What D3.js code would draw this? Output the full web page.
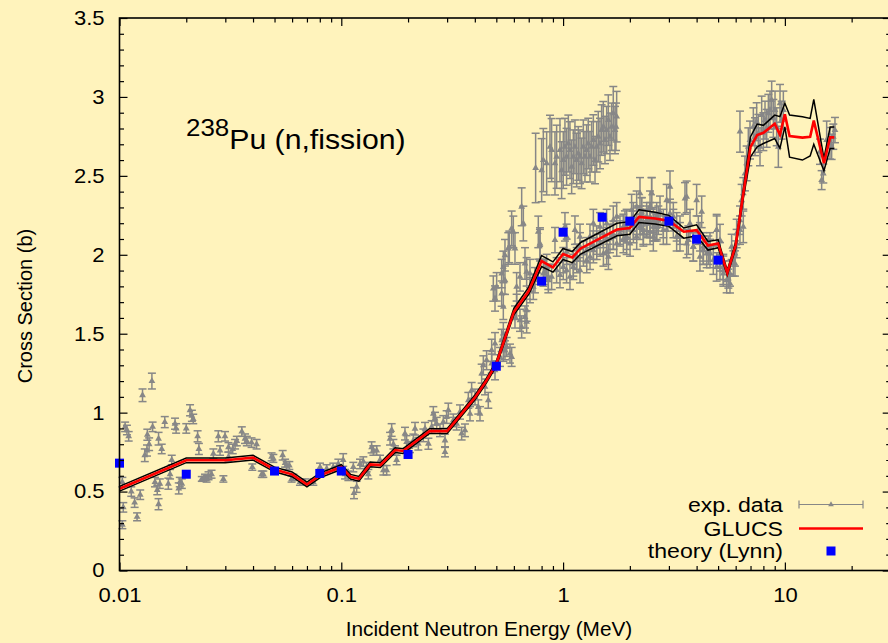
<!DOCTYPE html>
<html><head><meta charset="utf-8">
<script src="https://cdn.jsdelivr.net/npm/d3@7"></script>
<style>
html,body{margin:0;padding:0;background:#fff3bc;}
svg{display:block;font-family:"Liberation Sans",Arial,Helvetica,sans-serif;}
.sx{transform-box:fill-box;transform-origin:center;transform:scaleX(1.1);}
.sx2{transform-box:fill-box;transform-origin:center;transform:scaleX(1.04);}
.sxr{transform-box:fill-box;transform-origin:right center;transform:scaleX(1.1);}
.sxl{transform-box:fill-box;transform-origin:left center;transform:scaleX(1.08);}
</style></head><body><svg id="c" width="888" height="643"></svg>
<script>
// ---------- data ----------
const xTickValues = [0.01, 0.1, 1, 10];
const xTickLabels = ["0.01", "0.1", "1", "10"];
const yTickValues = [0, 0.5, 1, 1.5, 2, 2.5, 3, 3.5];
const yTickLabels = ["0", "0.5", "1", "1.5", "2", "2.5", "3", "3.5"];

// experimental data [E (MeV), sigma (b), error]
const expLow = [
[0.0103,0.56,0.03],[0.0104,0.40,0.03],[0.0103,0.29,0.025],[0.0106,0.91,0.03],[0.0108,0.89,0.03],[0.011,0.85,0.03],[0.0113,0.50,0.03],[0.0117,0.43,0.03],[0.0120,0.34,0.025],[0.0124,0.48,0.03],[0.0127,1.11,0.04],[0.0130,0.73,0.04],[0.0133,0.76,0.035],[0.01335,0.86,0.035],[0.0136,0.80,0.04],[0.0140,1.20,0.05],[0.0141,0.91,0.03],[0.01445,0.56,0.03],[0.0148,0.51,0.03],[0.0150,0.42,0.035],[0.0150,0.835,0.04],[0.0152,0.55,0.03],[0.0155,0.77,0.03],[0.0160,0.94,0.035],[0.0166,0.55,0.035],[0.0169,0.61,0.03],[0.0172,0.70,0.03],[0.0178,0.93,0.035],[0.0180,0.90,0.03],[0.0185,0.52,0.035],[0.0187,0.56,0.03],[0.0191,0.55,0.03],[0.0200,0.90,0.03],[0.0208,1.015,0.035],[0.0212,0.98,0.035],[0.0215,0.96,0.03],[0.0225,0.85,0.035],[0.0228,0.77,0.035],[0.0235,0.58,0.015],[0.0243,0.59,0.02],[0.0247,0.58,0.02],[0.0252,0.60,0.025],[0.026,0.61,0.025],[0.0265,0.74,0.03],[0.0279,0.85,0.035],[0.0284,0.76,0.03],[0.0294,0.58,0.02],[0.0299,0.85,0.03],[0.031,0.78,0.03],[0.031,0.72,0.03],[0.0324,0.77,0.03],[0.0332,0.80,0.03],[0.0338,0.82,0.03],[0.0356,0.88,0.03],[0.0368,0.835,0.03],[0.0375,0.82,0.03],[0.0394,0.81,0.03],[0.0397,0.655,0.02],[0.0415,0.80,0.03],[0.0438,0.61,0.02],[0.0445,0.61,0.02],[0.0485,0.72,0.025],[0.0494,0.71,0.025],[0.0544,0.73,0.03],[0.0558,0.68,0.025],[0.0567,0.665,0.025],[0.0583,0.665,0.025],[0.0597,0.58,0.02],[0.0608,0.59,0.02],[0.0651,0.56,0.02],[0.0686,0.56,0.02],[0.0748,0.56,0.02],[0.0802,0.655,0.025],[0.0859,0.645,0.025],[0.092,0.655,0.025],[0.097,0.675,0.03],[0.102,0.70,0.04],[0.104,0.61,0.03],[0.1076,0.60,0.03],[0.1133,0.655,0.03],[0.1141,0.49,0.035],[0.1173,0.53,0.035],[0.1214,0.675,0.03],[0.1257,0.69,0.03],[0.1301,0.655,0.03],[0.1324,0.61,0.03],[0.137,0.78,0.035],[0.1395,0.76,0.03],[0.1444,0.76,0.03],[0.1495,0.70,0.03],[0.1548,0.635,0.03],[0.1602,0.635,0.03],[0.1659,0.835,0.04],[0.1687,0.89,0.04],[0.1717,0.80,0.03],[0.1746,0.76,0.03],[0.1776,0.70,0.03]
];
const expRise = [
[0.1937,0.867,0.04],[0.197,0.814,0.04],[0.204,0.782,0.035],[0.2113,0.824,0.04],[0.215,0.898,0.04],[0.2225,0.803,0.04],[0.2344,0.856,0.04],[0.2385,0.898,0.04],[0.247,0.803,0.035],[0.2555,0.909,0.04],[0.26,0.993,0.045],[0.2646,0.962,0.04],[0.2692,0.93,0.04],[0.2786,0.888,0.04],[0.2884,0.941,0.04],[0.2935,0.824,0.04],[0.2935,0.75,0.03],[0.2985,0.972,0.04],[0.3038,1.015,0.045],[0.3199,0.951,0.04],[0.3311,0.93,0.04],[0.3428,1.004,0.045],[0.3488,0.867,0.04],[0.3611,0.888,0.04],[0.3739,1.078,0.05],[0.3804,0.993,0.045],[0.387,1.141,0.05],[0.4008,1.099,0.05],[0.4147,1.036,0.045],[0.422,0.993,0.045],[0.4445,1.163,0.05],[0.46,1.078,0.05],
[0.4294,1.247,0.06],[0.4369,1.30,0.06],[0.452,1.332,0.06],[0.4764,1.395,0.07],[0.4764,1.311,0.06],[0.4932,1.437,0.07],[0.4932,1.268,0.06],[0.5195,1.353,0.06],[0.5285,1.458,0.07],[0.5377,1.395,0.07],[0.5377,1.501,0.07],[0.547,1.395,0.06],[0.5566,1.416,0.06],[0.5762,1.374,0.06],[0.5863,1.353,0.06],[0.6069,1.606,0.07],[0.6174,1.670,0.08],[0.6393,1.585,0.07],[0.6504,1.543,0.07],[0.6733,1.606,0.07],[0.685,1.575,0.07],[0.685,1.649,0.07],[0.7091,1.776,0.08],[0.734,1.797,0.08],[0.7468,1.839,0.08],[0.773,1.892,0.08],[0.8286,1.892,0.08],[0.8431,1.923,0.08],[0.8578,1.86,0.08],
[0.4846,1.786,0.08],[0.4932,1.723,0.08],[0.5017,1.797,0.09],[0.5285,1.881,0.09],[0.5377,1.923,0.1],[0.547,1.839,0.09],[0.5285,1.754,0.08],[0.5377,1.67,0.08],[0.5662,2.04,0.1],[0.6069,2.04,0.1],[0.547,1.997,0.1],[0.6174,1.797,0.09],[0.6393,1.86,0.09],[0.6733,1.945,0.1],[0.685,1.892,0.09],[0.7091,1.881,0.09],[0.7865,2.061,0.1],[0.5723,2.05,0.1],[0.5863,2.167,0.11],[0.5965,2.145,0.1],[0.6506,2.304,0.12],[0.6619,2.198,0.11],[0.7731,2.145,0.1],[0.7866,2.071,0.1]
];
const expUpper = [
[0.752,2.55,0.22],[0.8005,2.536,0.2],[0.8145,2.6,0.2],[0.8431,2.579,0.2],[0.8728,2.684,0.2],[0.888,2.663,0.2],[0.9192,2.579,0.2],[0.9352,2.621,0.2],[0.9681,2.663,0.2],[0.985,2.536,0.18],[1.002,2.6,0.18],[1.0195,2.684,0.18],[1.037,2.621,0.18],[1.056,2.705,0.18],[1.074,2.663,0.18],[1.093,2.557,0.17],[1.112,2.621,0.17],[1.131,2.684,0.17],[1.151,2.60,0.17],[1.171,2.642,0.17],[1.192,2.621,0.17],[1.212,2.579,0.16],[1.234,2.684,0.17],[1.255,2.621,0.16],[1.277,2.663,0.16],[1.299,2.705,0.16],[1.322,2.621,0.16],[1.345,2.684,0.16],[1.369,2.727,0.16],[1.393,2.6,0.15],[1.417,2.684,0.16],[1.441,2.748,0.16],[1.467,2.705,0.16],[1.492,2.79,0.16],[1.518,2.811,0.16],[1.545,2.727,0.15],[1.572,2.79,0.15],[1.599,2.853,0.16],[1.627,2.748,0.15],[1.656,2.811,0.15],[1.684,2.896,0.17],[1.714,2.79,0.15],[1.732,2.811,0.15],[1.744,2.875,0.16]
];
const expMid = [
[0.8147,1.881,0.08],[0.858,1.839,0.08],[0.888,1.86,0.08],[0.935,1.902,0.08],[0.968,1.871,0.08],[1.002,1.923,0.08],[1.037,1.902,0.08],[1.074,1.86,0.08],[1.112,1.923,0.08],[1.152,1.966,0.08],[1.192,1.902,0.08],[1.235,2.008,0.08],[1.278,1.966,0.08],[1.323,1.987,0.08],[1.370,2.029,0.08],[1.418,2.05,0.08],[1.468,2.071,0.08],[1.520,2.008,0.08],[1.573,2.093,0.08],[1.601,1.987,0.08],[1.686,2.114,0.08],[1.745,2.071,0.08],[1.807,2.135,0.08],[1.870,2.093,0.08],[1.936,2.114,0.08],[2.004,2.071,0.08],[2.075,2.156,0.08],[2.147,2.114,0.08],[2.223,2.177,0.08],[2.301,2.135,0.08],[2.382,2.198,0.08],[2.466,2.145,0.08],[2.553,2.219,0.08],[2.642,2.177,0.08],
[0.9192,2.093,0.08],[1.0195,2.177,0.09],[1.037,2.114,0.08],[1.131,2.156,0.09],[1.192,2.114,0.08],[1.322,2.114,0.08],[1.369,2.198,0.09],[1.467,2.177,0.09],[1.572,2.198,0.09],[1.684,2.219,0.09],[1.744,2.241,0.09],[1.868,2.177,0.08],[1.934,2.198,0.09],[2.073,2.241,0.09],[2.146,2.304,0.1],[2.222,2.219,0.09],[2.381,2.219,0.09],[2.466,2.304,0.1],[2.508,2.389,0.1],[2.596,2.177,0.09],[2.642,2.241,0.09],
[1.0025,1.966,0.08],[1.038,2.019,0.08],[1.112,1.945,0.08],[1.151,1.987,0.08],[1.192,2.05,0.09],[1.277,2.029,0.08],[1.369,2.061,0.09],[1.417,2.093,0.09],[1.518,2.135,0.09],[1.572,2.019,0.08],[1.627,2.103,0.09],[1.684,2.124,0.09],[1.805,2.156,0.09],[1.901,2.188,0.09],[1.934,2.082,0.08],[2.037,2.283,0.1],[2.073,2.188,0.09],[2.146,2.219,0.09],[2.222,2.389,0.1],[2.261,2.262,0.1],[2.30,2.156,0.09],[2.381,2.198,0.09],[2.466,2.241,0.09],[2.552,2.114,0.09],[2.642,2.177,0.09],[2.735,2.272,0.1],[2.831,2.198,0.09],[2.931,2.156,0.09],[3.034,2.431,0.1],[3.141,2.241,0.09],[3.251,2.177,0.09],[3.365,2.114,0.09],[3.545,2.357,0.1],[3.607,2.071,0.09],[3.734,2.198,0.09],[3.865,2.05,0.09],[4.0,2.346,0.1],[4.141,2.114,0.09],[4.287,2.05,0.09],[4.516,2.029,0.09],[4.756,1.966,0.09],[4.924,1.923,0.09],[5.097,1.987,0.09],[5.277,1.902,0.09],
[2.261,2.272,0.09],[2.381,2.241,0.09],[2.466,2.198,0.09],[2.552,2.177,0.09],[2.508,2.389,0.1],[2.688,2.219,0.09],[2.831,2.156,0.09],[2.931,2.346,0.1],[3.034,2.262,0.09],[3.141,2.198,0.09],[3.251,2.114,0.09],[3.365,2.156,0.09],[3.607,2.367,0.1],[3.67,2.093,0.09],[3.865,2.05,0.09],[4.071,2.156,0.09],[4.141,1.987,0.09],[4.287,2.029,0.09],[4.596,2.008,0.09],[4.925,2.156,0.09],[5.098,1.923,0.08],[5.277,1.881,0.08],[5.464,1.839,0.08],[5.656,1.881,0.08],[5.957,1.945,0.08],[6.061,2.071,0.09],[6.274,2.219,0.09],[6.383,2.346,0.1]
];
const expHigh = [
[4.216,2.272,0.1],[4.289,2.029,0.09],[4.44,2.008,0.09],[4.596,2.05,0.09],[4.925,2.156,0.1],[5.098,2.093,0.1],[5.277,1.923,0.08],[5.559,1.849,0.06],[5.656,1.818,0.06],[5.754,2.05,0.08],[5.855,1.945,0.08],[5.957,2.008,0.08],[6.061,2.135,0.09],[6.274,2.156,0.09],[6.494,2.177,0.1],[6.494,2.389,0.1],[6.608,2.515,0.11],[6.723,2.579,0.11],[6.274,2.78,0.13],[6.841,2.684,0.12],[6.962,2.727,0.12],[7.207,2.811,0.12],[7.333,2.748,0.12],[7.461,2.843,0.12],[7.591,2.769,0.12],[7.724,2.684,0.12],[7.859,2.885,0.12],[7.996,2.78,0.12],[8.136,2.853,0.12],[8.278,2.801,0.12],[8.423,2.896,0.12],[8.57,2.917,0.12],[8.72,2.98,0.12],[8.872,2.864,0.12],[9.027,2.917,0.12],[9.185,2.811,0.12],[9.345,2.684,0.13],[9.508,2.959,0.12],[9.674,2.853,0.12],[9.843,2.917,0.12],
[14.4,2.653,0.08],[14.65,2.473,0.06],[14.9,2.515,0.06],[15.43,2.727,0.12],[15.97,2.706,0.1],[16.25,2.684,0.08],[16.53,2.748,0.08],[16.82,2.79,0.08]
];

// GLUCS evaluation (central value with upper / lower uncertainty band)
const glucsE  = [0.01,0.02,0.03,0.04,0.05,0.06,0.07,0.08,0.1,0.11,0.12,0.135,0.15,0.175,0.19,0.25,0.3,0.4,0.45,0.5,0.6,0.7,0.8,0.9,1.0,1.1,1.2,1.75,2.0,2.2,2.6,3.0,3.5,4.0,4.5,5.0,5.5,6.0,6.5,7.0,7.5,8.0,9.0,9.5,10.0,10.5,12,13,13.5,15,16,16.7];
const glucs   = [0.518,0.698,0.698,0.715,0.64,0.609,0.545,0.602,0.655,0.594,0.581,0.672,0.668,0.763,0.757,0.883,0.883,1.095,1.2,1.31,1.638,1.77,1.96,1.92,2.005,1.983,2.04,2.16,2.17,2.24,2.23,2.215,2.146,2.156,2.058,2.072,1.885,2.06,2.39,2.684,2.758,2.773,2.83,2.76,2.89,2.752,2.742,2.748,2.85,2.58,2.744,2.744];
const glucsHi = [0.533,0.713,0.713,0.73,0.655,0.624,0.56,0.617,0.67,0.609,0.596,0.687,0.683,0.778,0.772,0.898,0.898,1.11,1.215,1.325,1.66,1.795,1.995,1.955,2.04,2.02,2.078,2.2,2.21,2.285,2.27,2.25,2.17,2.19,2.085,2.095,1.9,2.08,2.42,2.748,2.828,2.82,2.885,2.875,2.96,2.885,2.874,2.864,2.985,2.61,2.81,2.81];
const glucsLo = [0.503,0.683,0.683,0.70,0.625,0.594,0.53,0.587,0.64,0.579,0.566,0.657,0.653,0.748,0.742,0.868,0.868,1.08,1.185,1.295,1.62,1.75,1.925,1.89,1.97,1.95,2.005,2.12,2.13,2.205,2.195,2.18,2.105,2.12,2.03,2.045,1.87,2.04,2.36,2.62,2.684,2.705,2.737,2.674,2.81,2.618,2.60,2.626,2.70,2.532,2.674,2.674];

// theory (Lynn)
const lynnE = [0.01,0.02,0.05,0.08,0.1,0.2,0.5,0.8,1.0,1.5,2.0,3.0,4.0,5.0];
const lynn  = [0.68,0.61,0.63,0.615,0.63,0.735,1.294,1.833,2.143,2.238,2.213,2.213,2.099,1.966];

// ---------- drawing ----------
const svg = d3.select("#c");
const L = 119.5, R = 890.7, T = 18, B = 570.5;
const x = d3.scaleLog().domain([0.01, 30]).range([L, R]);
const y = d3.scaleLinear().domain([0, 3.5]).range([B, T]);
const GRAY = "#878787";

svg.append("rect").attr("width", 888).attr("height", 643).attr("fill", "#fff3bc");

// experimental data
const allExp = [].concat(expLow, expRise, expUpper, expMid, expHigh);
const eg = svg.append("g").attr("stroke", GRAY).attr("stroke-width", 1.5).attr("fill", "none");
allExp.forEach(d => {
  const cx = x(d[0]), y1 = y(d[1] - d[2]), y2 = y(d[1] + d[2]);
  eg.append("line").attr("x1", cx).attr("x2", cx).attr("y1", y1).attr("y2", y2);
  eg.append("line").attr("x1", cx - 4).attr("x2", cx + 4).attr("y1", y1).attr("y2", y1);
  eg.append("line").attr("x1", cx - 4).attr("x2", cx + 4).attr("y1", y2).attr("y2", y2);
});
const tri = d3.symbol().type(d3.symbolTriangle).size(20);
svg.append("g").selectAll("path").data(allExp).join("path")
  .attr("d", tri).attr("fill", GRAY)
  .attr("transform", d => `translate(${x(d[0])},${y(d[1])})`);

// GLUCS
const idx = d3.range(glucsE.length);
const lineOf = arr => d3.line().x(i => x(glucsE[i])).y(i => y(arr[i]))(idx);
svg.append("path").attr("d", lineOf(glucsHi)).attr("fill", "none").attr("stroke", "#000").attr("stroke-width", 1.5);
svg.append("path").attr("d", lineOf(glucsLo)).attr("fill", "none").attr("stroke", "#000").attr("stroke-width", 1.5);
svg.append("path").attr("d", lineOf(glucs)).attr("fill", "none").attr("stroke", "#ff0000").attr("stroke-width", 2.6);

// theory squares
svg.append("g").selectAll("rect").data(lynnE).join("rect")
  .attr("x", (d, i) => x(d) - 4.5).attr("y", (d, i) => y(lynn[i]) - 4.5)
  .attr("width", 9).attr("height", 9).attr("fill", "#0000ff");

// axes
const xMinor = [];
[0.01, 0.1, 1, 10].forEach(dec => { for (let k = 2; k <= 9; k++) { const v = k * dec; if (v <= 30) xMinor.push(v); } });
const yMinor = d3.range(0, 36).map(i => i / 10).filter(v => Math.round(v * 10) % 5 !== 0);

function styleAxis(g) {
  g.select(".domain").remove();
  g.selectAll("line").attr("stroke", "#000").attr("stroke-width", 1.2);
  g.selectAll("text").attr("fill", "#000").attr("font-size", 20).attr("font-family", '"Liberation Sans",Arial,sans-serif');
}
const ax = svg.append("g");
ax.append("g").attr("transform", `translate(0,${B})`)
  .call(d3.axisBottom(x).tickValues(xTickValues).tickFormat((d, i) => xTickLabels[i]).tickSize(-8).tickPadding(17))
  .call(styleAxis).selectAll("text").attr("class", "sx");
ax.append("g").attr("transform", `translate(0,${B})`)
  .call(d3.axisBottom(x).tickValues(xMinor).tickFormat("").tickSize(-4.5)).call(styleAxis);
ax.append("g").attr("transform", `translate(0,${T})`)
  .call(d3.axisTop(x).tickValues(xTickValues).tickFormat("").tickSize(-8)).call(styleAxis);
ax.append("g").attr("transform", `translate(0,${T})`)
  .call(d3.axisTop(x).tickValues(xMinor).tickFormat("").tickSize(-4.5)).call(styleAxis);
ax.append("g").attr("transform", `translate(${L},0)`)
  .call(d3.axisLeft(y).tickValues(yTickValues).tickFormat((d, i) => yTickLabels[i]).tickSize(-8).tickPadding(15))
  .call(styleAxis).selectAll("text").attr("class", "sxr");
ax.append("g").attr("transform", `translate(${L},0)`)
  .call(d3.axisLeft(y).tickValues(yMinor).tickFormat("").tickSize(-4.5)).call(styleAxis);
ax.append("g").attr("transform", `translate(${R},0)`)
  .call(d3.axisRight(y).tickValues(yTickValues).tickFormat("").tickSize(-8)).call(styleAxis);
ax.append("g").attr("transform", `translate(${R},0)`)
  .call(d3.axisRight(y).tickValues(yMinor).tickFormat("").tickSize(-4.5)).call(styleAxis);

svg.append("rect").attr("x", L).attr("y", T).attr("width", R - L).attr("height", B - T)
  .attr("fill", "none").attr("stroke", "#000").attr("stroke-width", 1.6);

// axis titles
svg.append("text").attr("x", 489).attr("y", 636).attr("text-anchor", "middle")
  .attr("font-size", 20).attr("class", "sx2").text("Incident Neutron Energy (MeV)");
svg.append("text").attr("transform", "translate(32,306) rotate(-90)").attr("text-anchor", "middle")
  .attr("font-size", 20).text("Cross Section (b)");

// title
const tt = svg.append("text").attr("x", 186).attr("y", 149).attr("class", "sxl");
tt.append("tspan").attr("font-size", 24).attr("dy", -13).text("238");
tt.append("tspan").attr("font-size", 28).attr("dy", 13).text("Pu (n,fission)");

// legend
const legendLabels = ["exp. data", "GLUCS", "theory (Lynn)"];
const legY = [504.5, 528.5, 551];
legendLabels.forEach((t, i) => {
  svg.append("text").attr("x", 783).attr("y", legY[i] + 7.5).attr("text-anchor", "end")
    .attr("font-size", 21).attr("class", "sxr").text(t);
});
const lg = svg.append("g");
lg.append("line").attr("x1", 799).attr("x2", 863).attr("y1", legY[0]).attr("y2", legY[0]).attr("stroke", GRAY).attr("stroke-width", 1.2);
lg.append("line").attr("x1", 799).attr("x2", 799).attr("y1", legY[0] - 4).attr("y2", legY[0] + 4).attr("stroke", GRAY).attr("stroke-width", 1.2);
lg.append("line").attr("x1", 863).attr("x2", 863).attr("y1", legY[0] - 4).attr("y2", legY[0] + 4).attr("stroke", GRAY).attr("stroke-width", 1.2);
lg.append("path").attr("d", d3.symbol().type(d3.symbolTriangle).size(14)()).attr("fill", GRAY).attr("transform", `translate(831,${legY[0]})`);
lg.append("line").attr("x1", 799).attr("x2", 863).attr("y1", legY[1]).attr("y2", legY[1]).attr("stroke", "#ff0000").attr("stroke-width", 2.4);
lg.append("rect").attr("x", 826.5).attr("y", legY[2] - 4.5).attr("width", 9).attr("height", 9).attr("fill", "#0000ff");
</script></body></html>
